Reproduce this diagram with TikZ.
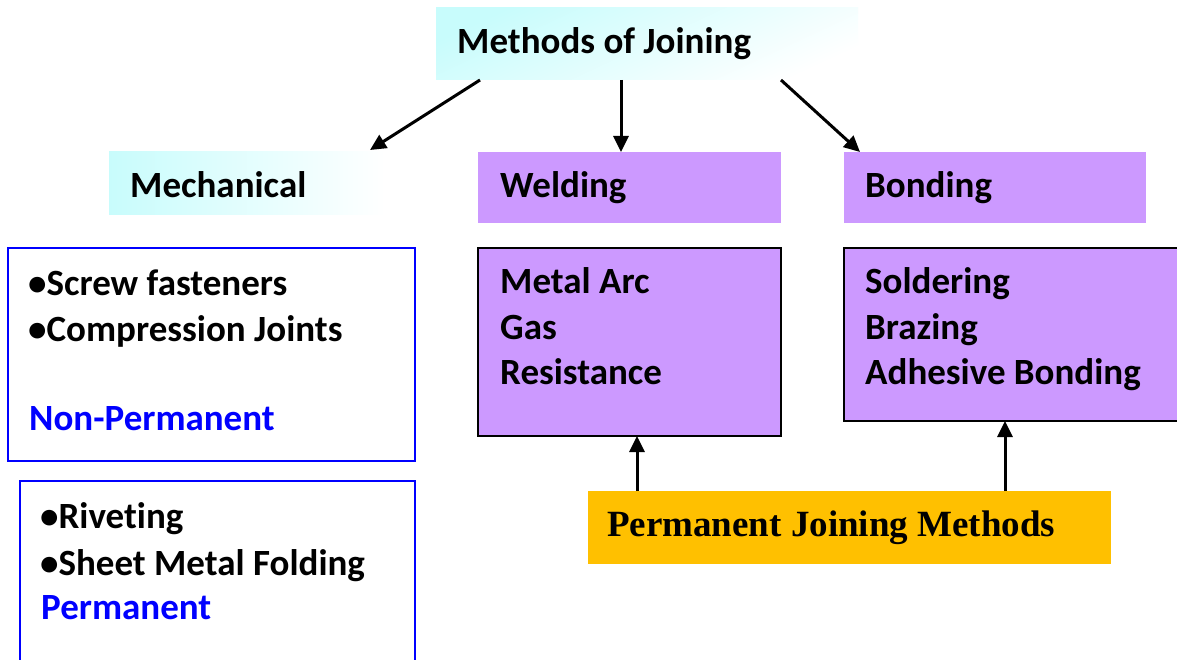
\documentclass[tikz,border=0pt]{standalone}
\usepackage{fontspec}
\setmainfont{Carlito}[Ligatures=NoCommon]
\newfontfamily\serifbold{Liberation Serif}
\usetikzlibrary{arrows.meta}
\definecolor{paleaqua}{RGB}{200,252,252}
\definecolor{lilac}{RGB}{204,153,255}
\definecolor{amber}{RGB}{255,192,0}
\definecolor{pureblue}{RGB}{0,0,255}
\tikzset{
  txt/.style={anchor=base west,inner sep=0pt,font=\fontsize{37}{44}\selectfont\bfseries},
  bluetxt/.style={txt,text=pureblue},
  panel/.style={anchor=north west,inner sep=0pt,outer sep=0pt},
  lilacbox/.style={panel,fill=lilac},
  listbox/.style={panel,fill=lilac,draw=black,line width=2.8pt},
  bluebox/.style={panel,draw=pureblue,line width=2.5pt},
  arr/.style={line width=3pt,-{Triangle[length=16pt,width=15pt]}}
}
\begin{document}
\begin{tikzpicture}[x=1pt,y=-1pt]
\clip (0,0) rectangle (1177,660);
\fill[white] (0,0) rectangle (1177,660);

% title box with a soft aqua-to-white wash
\node[panel,minimum width=422pt,minimum height=72pt,
      top color=paleaqua,bottom color=white,shading angle=25] (top) at (436,8) {};
\node[txt] (toptxt) at (457,54) {Methods of Joining};

% three categories
\node[panel,minimum width=276pt,minimum height=63pt,
      left color=paleaqua,right color=white] (mech) at (109,152) {};
\node[txt] (mechtxt) at (130,198) {Mechanical};
\node[lilacbox,minimum width=303pt,minimum height=71pt] (weld) at (478,152) {};
\node[txt] (weldtxt) at (500,198) {Welding};
\node[lilacbox,minimum width=302pt,minimum height=71pt] (bond) at (844,152) {};
\node[txt] (bondtxt) at (865,198) {Bonding};

% mechanical sub-groups
\node[bluebox,minimum width=407pt,minimum height=213pt] (nonperm) at (8,248) {};
\node[txt] (np1) at (28,295) {•Screw fasteners};
\node[txt] (np2) at (28,341) {•Compression Joints};
\node[bluetxt] (np3) at (29,430) {Non-Permanent};

\node[bluebox,minimum width=395pt,minimum height=220pt] (perm) at (20,481) {};
\node[txt] (p1) at (40,528) {•Riveting};
\node[txt] (p2) at (40,575) {•Sheet Metal Folding};
\node[bluetxt] (p3) at (41,619) {Permanent};

% welding and bonding processes
\node[listbox,minimum width=303pt,minimum height=188pt] (wlist) at (478,248) {};
\node[txt] (w1) at (500,293) {Metal Arc};
\node[txt] (w2) at (500,339) {Gas};
\node[txt] (w3) at (500,384) {Resistance};
\node[listbox,minimum width=345pt,minimum height=173pt] (blist) at (844,248) {};
\node[txt] (b1) at (865,293) {Soldering};
\node[txt] (b2) at (865,339) {Brazing};
\node[txt] (b3) at (865,384) {Adhesive Bonding};

% permanent joining banner
\node[panel,fill=amber,minimum width=523pt,minimum height=73pt] (pjm) at (588,491) {};
\node[anchor=base west,inner sep=0pt,font=\serifbold\fontsize{37}{44}\selectfont\bfseries]
  (pjmtxt) at (607,536) {Permanent Joining Methods};

% connectors
\draw[arr] ([xshift=44pt]top.south west) -- ([xshift=-15pt,yshift=2pt]mech.north east);
\draw[arr] ([xshift=185pt]top.south west) -- ([xshift=185pt]top.south west |- weld.north);
\draw[arr] ([xshift=-77pt]top.south east) -- ([xshift=16pt]bond.north west);
\draw[arr] ([xshift=49pt]pjm.north west) -- ([xshift=49pt]pjm.north west |- wlist.south);
\draw[arr] ([xshift=417pt]pjm.north west) -- ([xshift=417pt]pjm.north west |- blist.south);
\end{tikzpicture}
\end{document}
